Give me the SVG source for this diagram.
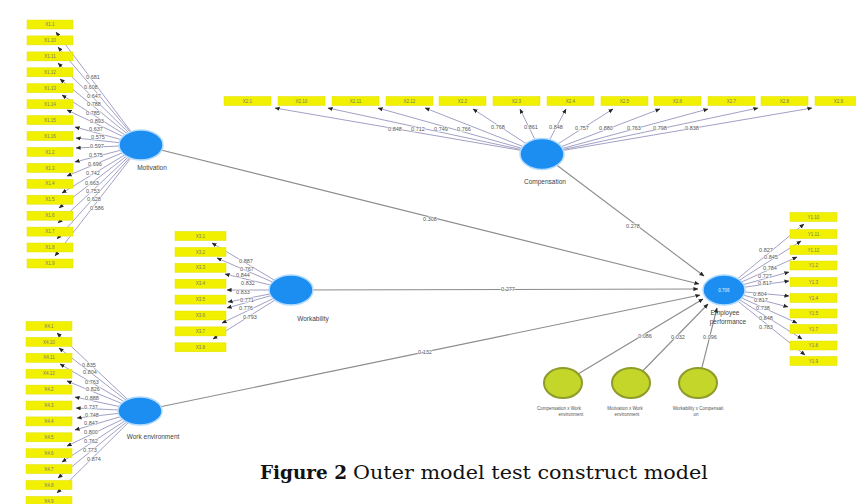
<svg xmlns="http://www.w3.org/2000/svg" width="856" height="504" viewBox="0 0 856 504">
<defs>
<marker id="ah" markerUnits="userSpaceOnUse" markerWidth="5" markerHeight="5" viewBox="0 0 6 6" refX="5.5" refY="3" orient="auto"><path d="M0,0.5 L6,3 L0,5.5 z" fill="#262626"/></marker>
</defs>
<style>
.ind rect{fill:#f0f000;stroke:#e2e200;stroke-width:0.5}
.ind text{font-family:"Liberation Sans",Arial,sans-serif;font-size:4.5px;fill:#777;text-anchor:middle}
.ld{stroke:#8a88b6;stroke-width:0.8;fill:none;marker-end:url(#ah)}
.pth{stroke:#8c8c8c;stroke-width:1.1;fill:none;marker-end:url(#ah)}
.lv ellipse{fill:#1c8ef2;stroke:#b3dbff;stroke-width:1.5}
.mod ellipse{fill:#c4d62a;stroke:#8f9c2c;stroke-width:2}
.lbl{font-family:"Liberation Sans",Arial,sans-serif;font-size:5.5px;fill:#555;text-anchor:middle;stroke:#fff;stroke-width:1.2px;paint-order:stroke}
.nm{font-family:"Liberation Sans",Arial,sans-serif;font-size:6.5px;fill:#444;text-anchor:middle}
.sm{font-family:"Liberation Sans",Arial,sans-serif;font-size:4.5px;fill:#555;text-anchor:middle}
.cap{font-family:"DejaVu Serif","Liberation Serif",serif;font-size:19px;fill:#111}
</style>
<rect width="856" height="504" fill="#fff"/>

<g id="connectors">
<!-- Motivation loadings -->
<path class="ld" d="M141,145 L56,32"/><path class="ld" d="M141,145 L58,47"/><path class="ld" d="M141,145 L58,63"/><path class="ld" d="M141,145 L60,79"/>
<path class="ld" d="M141,145 L62,95"/><path class="ld" d="M141,145 L67,110"/><path class="ld" d="M141,145 L75,127"/><path class="ld" d="M141,145 L76,138"/>
<path class="ld" d="M141,145 L76,148"/><path class="ld" d="M141,145 L75,162"/><path class="ld" d="M141,145 L67,176"/><path class="ld" d="M141,145 L62,193"/>
<path class="ld" d="M141,145 L59,208"/><path class="ld" d="M141,145 L58,223"/><path class="ld" d="M141,145 L57,239"/><path class="ld" d="M141,145 L55,256"/>
<!-- Work environment loadings -->
<path class="ld" d="M140,411 L57,333"/><path class="ld" d="M140,411 L59,348"/><path class="ld" d="M140,411 L60,364"/><path class="ld" d="M140,411 L67,381"/>
<path class="ld" d="M140,411 L75,397"/><path class="ld" d="M140,411 L76,408"/><path class="ld" d="M140,411 L77,418"/><path class="ld" d="M140,411 L75,430"/>
<path class="ld" d="M140,411 L67,446"/><path class="ld" d="M140,411 L62,462"/><path class="ld" d="M140,411 L58,478"/><path class="ld" d="M140,411 L57,493"/>
<!-- Workability loadings -->
<path class="ld" d="M291,290 L212,243"/><path class="ld" d="M291,290 L217,258"/><path class="ld" d="M291,290 L225,274"/><path class="ld" d="M291,290 L227,290"/>
<path class="ld" d="M291,290 L228,302"/><path class="ld" d="M291,290 L227,308"/><path class="ld" d="M291,290 L222,323"/><path class="ld" d="M291,290 L213,339"/>
<!-- Compensation loadings -->
<path class="ld" d="M542,154 L275,108"/><path class="ld" d="M542,154 L328,108"/><path class="ld" d="M542,154 L378,108"/><path class="ld" d="M542,154 L425,108"/>
<path class="ld" d="M542,154 L473,109"/><path class="ld" d="M542,154 L520,109"/><path class="ld" d="M542,154 L566,109"/><path class="ld" d="M542,154 L613,109"/>
<path class="ld" d="M542,154 L660,109"/><path class="ld" d="M542,154 L708,109"/><path class="ld" d="M542,154 L758,108"/><path class="ld" d="M542,154 L812,108"/>
<!-- Employee performance loadings -->
<path class="ld" d="M724,290 L804,224"/><path class="ld" d="M724,290 L801,241"/><path class="ld" d="M724,290 L797,257"/><path class="ld" d="M724,290 L789,272"/>
<path class="ld" d="M724,290 L789,281"/><path class="ld" d="M724,290 L789,296"/><path class="ld" d="M724,290 L788,307"/><path class="ld" d="M724,290 L797,323"/>
<path class="ld" d="M724,290 L802,339"/><path class="ld" d="M724,290 L805,355"/>
<!-- Structural paths -->
<path class="pth" d="M141,145 L699,284"/>
<path class="pth" d="M542,154 L704,276"/>
<path class="pth" d="M291,290 L698,289"/>
<path class="pth" d="M140,411 L700,295"/>
<path class="pth" d="M563,383 L703,299"/>
<path class="pth" d="M631,383 L708,304"/>
<path class="pth" d="M698,383 L717,308"/>

<!-- loading labels -->
<g class="lbl">
<text x="93" y="79">0.681</text><text x="91" y="89">0.608</text><text x="94" y="98">0.647</text><text x="94" y="106">0.788</text>
<text x="93" y="115">0.785</text><text x="97" y="123">0.893</text><text x="96" y="131">0.637</text><text x="98" y="139">0.575</text>
<text x="97" y="148">0.597</text><text x="96" y="157">0.575</text><text x="95" y="166">0.696</text><text x="93" y="175">0.742</text>
<text x="92" y="185">0.663</text><text x="93" y="193">0.753</text><text x="94" y="201">0.628</text><text x="97" y="210">0.586</text>

<text x="89" y="367">0.835</text><text x="90" y="374">0.804</text><text x="92" y="384">0.763</text><text x="93" y="391">0.826</text>
<text x="92" y="400">0.888</text><text x="91" y="409">0.737</text><text x="92" y="417">0.748</text><text x="91" y="425">0.847</text>
<text x="91" y="434">0.800</text><text x="91" y="443">0.762</text><text x="90" y="452">0.773</text><text x="94" y="461">0.874</text>

<text x="246" y="263">0.887</text><text x="247" y="271">0.767</text><text x="243" y="277">0.844</text><text x="248" y="285">0.832</text>
<text x="243" y="294">0.833</text><text x="247" y="302">0.771</text><text x="246" y="310">0.776</text><text x="250" y="319">0.793</text>

<text x="395" y="131">0.848</text><text x="418" y="131">0.712</text><text x="441" y="131">0.749</text><text x="464" y="131">0.766</text>
<text x="498" y="129">0.768</text><text x="531" y="129">0.861</text><text x="556" y="129">0.848</text><text x="582" y="130">0.757</text>
<text x="606" y="130">0.880</text><text x="634" y="130">0.763</text><text x="660" y="130">0.798</text><text x="692" y="130">0.838</text>

<text x="766" y="252">0.827</text><text x="771" y="259">0.845</text><text x="770" y="270">0.784</text><text x="765" y="278">0.727</text>
<text x="765" y="285">0.817</text><text x="760" y="296">0.804</text><text x="761" y="302">0.817</text><text x="763" y="310">0.738</text>
<text x="766" y="320">0.848</text><text x="766" y="329">0.783</text>

<text x="430" y="221">0.308</text>
<text x="633" y="228">0.278</text>
<text x="508" y="291">0.277</text>
<text x="425" y="354">0.132</text>
<text x="645" y="338">0.086</text>
<text x="678" y="339">0.032</text>
<text x="710" y="339">0.096</text>
</g>
</g>

<!-- Latent variables -->
<g id="motivation" class="lv"><ellipse cx="141" cy="145" rx="22" ry="15"/><text class="nm" x="152" y="170">Motivation</text></g>
<g id="compensation" class="lv"><ellipse cx="542" cy="154" rx="22" ry="15.5"/><text class="nm" x="545" y="184">Compensation</text></g>
<g id="workability" class="lv"><ellipse cx="291" cy="290" rx="22" ry="15"/><text class="nm" x="313" y="321">Workability</text></g>
<g id="work-environment" class="lv"><ellipse cx="140" cy="411" rx="22" ry="14"/><text class="nm" x="153" y="439">Work environment</text></g>
<g id="employee-performance" class="lv"><ellipse cx="724" cy="290" rx="21" ry="15"/>
<text class="sm" x="724" y="292" style="fill:#e8f4ff">0.706</text>
<text class="nm" x="725" y="315">Employee</text><text class="nm" x="728" y="324">performance</text></g>

<!-- Moderators -->
<g id="mod1" class="mod"><ellipse cx="563" cy="383" rx="19" ry="15"/><text class="sm" x="559" y="410">Compensation x Work</text><text class="sm" x="571" y="416">environment</text></g>
<g id="mod2" class="mod"><ellipse cx="631" cy="383" rx="19" ry="15"/><text class="sm" x="625" y="410">Motivation x Work</text><text class="sm" x="627" y="416">environment</text></g>
<g id="mod3" class="mod"><ellipse cx="698" cy="383" rx="19" ry="15"/><text class="sm" x="698" y="410">Workability x Compensati</text><text class="sm" x="696" y="416">on</text></g>

<!-- Motivation indicators -->
<g class="ind">
<g id="X1-1"><rect x="27" y="20" width="46" height="9"/><text x="50" y="26.1">X1.1</text></g>
<g id="X1-10"><rect x="27" y="35.9" width="46" height="9"/><text x="50" y="42">X1.10</text></g>
<g id="X1-11"><rect x="27" y="51.9" width="46" height="9"/><text x="50" y="58">X1.11</text></g>
<g id="X1-12"><rect x="27" y="67.8" width="46" height="9"/><text x="50" y="73.9">X1.12</text></g>
<g id="X1-13"><rect x="27" y="83.7" width="46" height="9"/><text x="50" y="89.8">X1.13</text></g>
<g id="X1-14"><rect x="27" y="99.7" width="46" height="9"/><text x="50" y="105.8">X1.14</text></g>
<g id="X1-15"><rect x="27" y="115.6" width="46" height="9"/><text x="50" y="121.7">X1.15</text></g>
<g id="X1-16"><rect x="27" y="131.5" width="46" height="9"/><text x="50" y="137.6">X1.16</text></g>
<g id="X1-2"><rect x="27" y="147.4" width="46" height="9"/><text x="50" y="153.5">X1.2</text></g>
<g id="X1-3"><rect x="27" y="163.4" width="46" height="9"/><text x="50" y="169.5">X1.3</text></g>
<g id="X1-4"><rect x="27" y="179.3" width="46" height="9"/><text x="50" y="185.4">X1.4</text></g>
<g id="X1-5"><rect x="27" y="195.2" width="46" height="9"/><text x="50" y="201.3">X1.5</text></g>
<g id="X1-6"><rect x="27" y="211.2" width="46" height="9"/><text x="50" y="217.3">X1.6</text></g>
<g id="X1-7"><rect x="27" y="227.1" width="46" height="9"/><text x="50" y="233.2">X1.7</text></g>
<g id="X1-8"><rect x="27" y="243" width="46" height="9"/><text x="50" y="249.1">X1.8</text></g>
<g id="X1-9"><rect x="27" y="259" width="46" height="9"/><text x="50" y="265.1">X1.9</text></g>

<!-- Work environment indicators -->
<g id="X4-1"><rect x="26" y="321.5" width="46" height="9"/><text x="49" y="327.6">X4.1</text></g>
<g id="X4-10"><rect x="26" y="337.4" width="46" height="9"/><text x="49" y="343.5">X4.10</text></g>
<g id="X4-11"><rect x="26" y="353.3" width="46" height="9"/><text x="49" y="359.4">X4.11</text></g>
<g id="X4-12"><rect x="26" y="369.2" width="46" height="9"/><text x="49" y="375.3">X4.12</text></g>
<g id="X4-2"><rect x="26" y="385.1" width="46" height="9"/><text x="49" y="391.2">X4.2</text></g>
<g id="X4-3"><rect x="26" y="401" width="46" height="9"/><text x="49" y="407.1">X4.3</text></g>
<g id="X4-4"><rect x="26" y="416.9" width="46" height="9"/><text x="49" y="423">X4.4</text></g>
<g id="X4-5"><rect x="26" y="432.8" width="46" height="9"/><text x="49" y="438.9">X4.5</text></g>
<g id="X4-6"><rect x="26" y="448.7" width="46" height="9"/><text x="49" y="454.8">X4.6</text></g>
<g id="X4-7"><rect x="26" y="464.6" width="46" height="9"/><text x="49" y="470.7">X4.7</text></g>
<g id="X4-8"><rect x="26" y="480.5" width="46" height="9"/><text x="49" y="486.6">X4.8</text></g>
<g id="X4-9"><rect x="26" y="496.4" width="46" height="9"/><text x="49" y="502.5">X4.9</text></g>

<!-- Workability indicators -->
<g id="X3-1"><rect x="175" y="231.5" width="51" height="9"/><text x="200.5" y="237.6">X3.1</text></g>
<g id="X3-2"><rect x="175" y="247.4" width="51" height="9"/><text x="200.5" y="253.5">X3.2</text></g>
<g id="X3-3"><rect x="175" y="263.3" width="51" height="9"/><text x="200.5" y="269.4">X3.3</text></g>
<g id="X3-4"><rect x="175" y="279.2" width="51" height="9"/><text x="200.5" y="285.3">X3.4</text></g>
<g id="X3-5"><rect x="175" y="295.1" width="51" height="9"/><text x="200.5" y="301.2">X3.5</text></g>
<g id="X3-6"><rect x="175" y="311" width="51" height="9"/><text x="200.5" y="317.1">X3.6</text></g>
<g id="X3-7"><rect x="175" y="326.9" width="51" height="9"/><text x="200.5" y="333">X3.7</text></g>
<g id="X3-8"><rect x="175" y="342.8" width="51" height="9"/><text x="200.5" y="348.9">X3.8</text></g>

<!-- Compensation indicators -->
<g id="X2-1"><rect x="224" y="96.5" width="47" height="9"/><text x="247.5" y="102.6">X2.1</text></g>
<g id="X2-10"><rect x="278" y="96.5" width="47" height="9"/><text x="301.5" y="102.6">X2.10</text></g>
<g id="X2-11"><rect x="332" y="96.5" width="47" height="9"/><text x="355.5" y="102.6">X2.11</text></g>
<g id="X2-12"><rect x="386" y="96.5" width="47" height="9"/><text x="409.5" y="102.6">X2.12</text></g>
<g id="X2-2"><rect x="439" y="96.5" width="47" height="9"/><text x="462.5" y="102.6">X2.2</text></g>
<g id="X2-3"><rect x="493" y="96.5" width="47" height="9"/><text x="516.5" y="102.6">X2.3</text></g>
<g id="X2-4"><rect x="547" y="96.5" width="47" height="9"/><text x="570.5" y="102.6">X2.4</text></g>
<g id="X2-5"><rect x="601" y="96.5" width="47" height="9"/><text x="624.5" y="102.6">X2.5</text></g>
<g id="X2-6"><rect x="654" y="96.5" width="47" height="9"/><text x="677.5" y="102.6">X2.6</text></g>
<g id="X2-7"><rect x="708" y="96.5" width="47" height="9"/><text x="731.5" y="102.6">X2.7</text></g>
<g id="X2-8"><rect x="761" y="96.5" width="47" height="9"/><text x="784.5" y="102.6">X2.8</text></g>
<g id="X2-9"><rect x="815" y="96.5" width="47" height="9"/><text x="838.5" y="102.6">X2.9</text></g>

<!-- Employee performance indicators -->
<g id="Y1-10"><rect x="790" y="212.5" width="47" height="9"/><text x="813.5" y="218.6">Y1.10</text></g>
<g id="Y1-11"><rect x="790" y="229.5" width="47" height="9"/><text x="813.5" y="235.6">Y1.11</text></g>
<g id="Y1-12"><rect x="790" y="245.5" width="47" height="9"/><text x="813.5" y="251.6">Y1.12</text></g>
<g id="Y1-2"><rect x="790" y="261" width="47" height="9"/><text x="813.5" y="267.1">Y1.2</text></g>
<g id="Y1-3"><rect x="790" y="277.5" width="47" height="9"/><text x="813.5" y="283.6">Y1.3</text></g>
<g id="Y1-4"><rect x="790" y="293.5" width="47" height="9"/><text x="813.5" y="299.6">Y1.4</text></g>
<g id="Y1-5"><rect x="790" y="309" width="47" height="9"/><text x="813.5" y="315.1">Y1.5</text></g>
<g id="Y1-7"><rect x="790" y="324.5" width="47" height="9"/><text x="813.5" y="330.6">Y1.7</text></g>
<g id="Y1-8"><rect x="790" y="341" width="47" height="9"/><text x="813.5" y="347.1">Y1.8</text></g>
<g id="Y1-9"><rect x="790" y="356.5" width="47" height="9"/><text x="813.5" y="362.6">Y1.9</text></g>
</g>

<g id="caption">
<text class="cap" x="260" y="479" font-weight="bold" textLength="87" lengthAdjust="spacingAndGlyphs">Figure 2</text>
<text class="cap" x="353" y="479" textLength="355" lengthAdjust="spacingAndGlyphs">Outer model test construct model</text>
</g>
</svg>
